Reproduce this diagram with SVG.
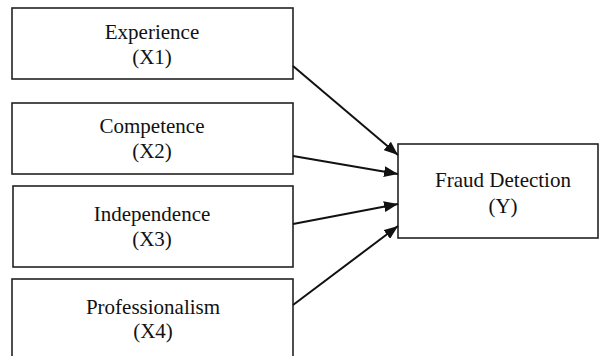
<svg xmlns="http://www.w3.org/2000/svg" width="599" height="356" viewBox="0 0 599 356">
<style>
.box{fill:#fff;stroke:#222;stroke-width:1.6}
.t{font-family:"Liberation Serif","Times New Roman",serif;font-size:21px;fill:#111;text-anchor:middle}
.edge{stroke:#111;stroke-width:2;fill:none}
</style>
<defs>
<marker id="arr" viewBox="0 0 14 11" refX="14" refY="5.5" markerWidth="14" markerHeight="11" markerUnits="userSpaceOnUse" orient="auto">
<path d="M0,0 L14,5.5 L0,11 Z" fill="#111"/>
</marker>
</defs>
<rect width="599" height="356" fill="#fff"/>
<g id="x1"><rect class="box" x="12" y="8" width="281" height="71"/><text class="t" x="152" y="39">Experience</text><text class="t" x="152" y="64">(X1)</text></g>
<g id="x2"><rect class="box" x="12" y="103" width="281" height="71"/><text class="t" x="152" y="133">Competence</text><text class="t" x="152" y="158">(X2)</text></g>
<g id="x3"><rect class="box" x="13" y="186" width="280" height="81"/><text class="t" x="152" y="221">Independence</text><text class="t" x="152" y="246">(X3)</text></g>
<g id="x4"><rect class="box" x="12" y="279" width="281" height="90"/><text class="t" x="153" y="314">Professionalism</text><text class="t" x="153" y="338">(X4)</text></g>
<g id="y"><rect class="box" x="398" y="144" width="200" height="94"/><text class="t" x="503" y="187">Fraud Detection</text><text class="t" x="503" y="213">(Y)</text></g>
<g id="connectors">
<line class="edge" x1="293" y1="66" x2="398" y2="155" marker-end="url(#arr)"/>
<line class="edge" x1="293" y1="156" x2="398" y2="174" marker-end="url(#arr)"/>
<line class="edge" x1="293" y1="224" x2="398" y2="204" marker-end="url(#arr)"/>
<line class="edge" x1="293" y1="305" x2="398" y2="226" marker-end="url(#arr)"/>
</g>
</svg>
